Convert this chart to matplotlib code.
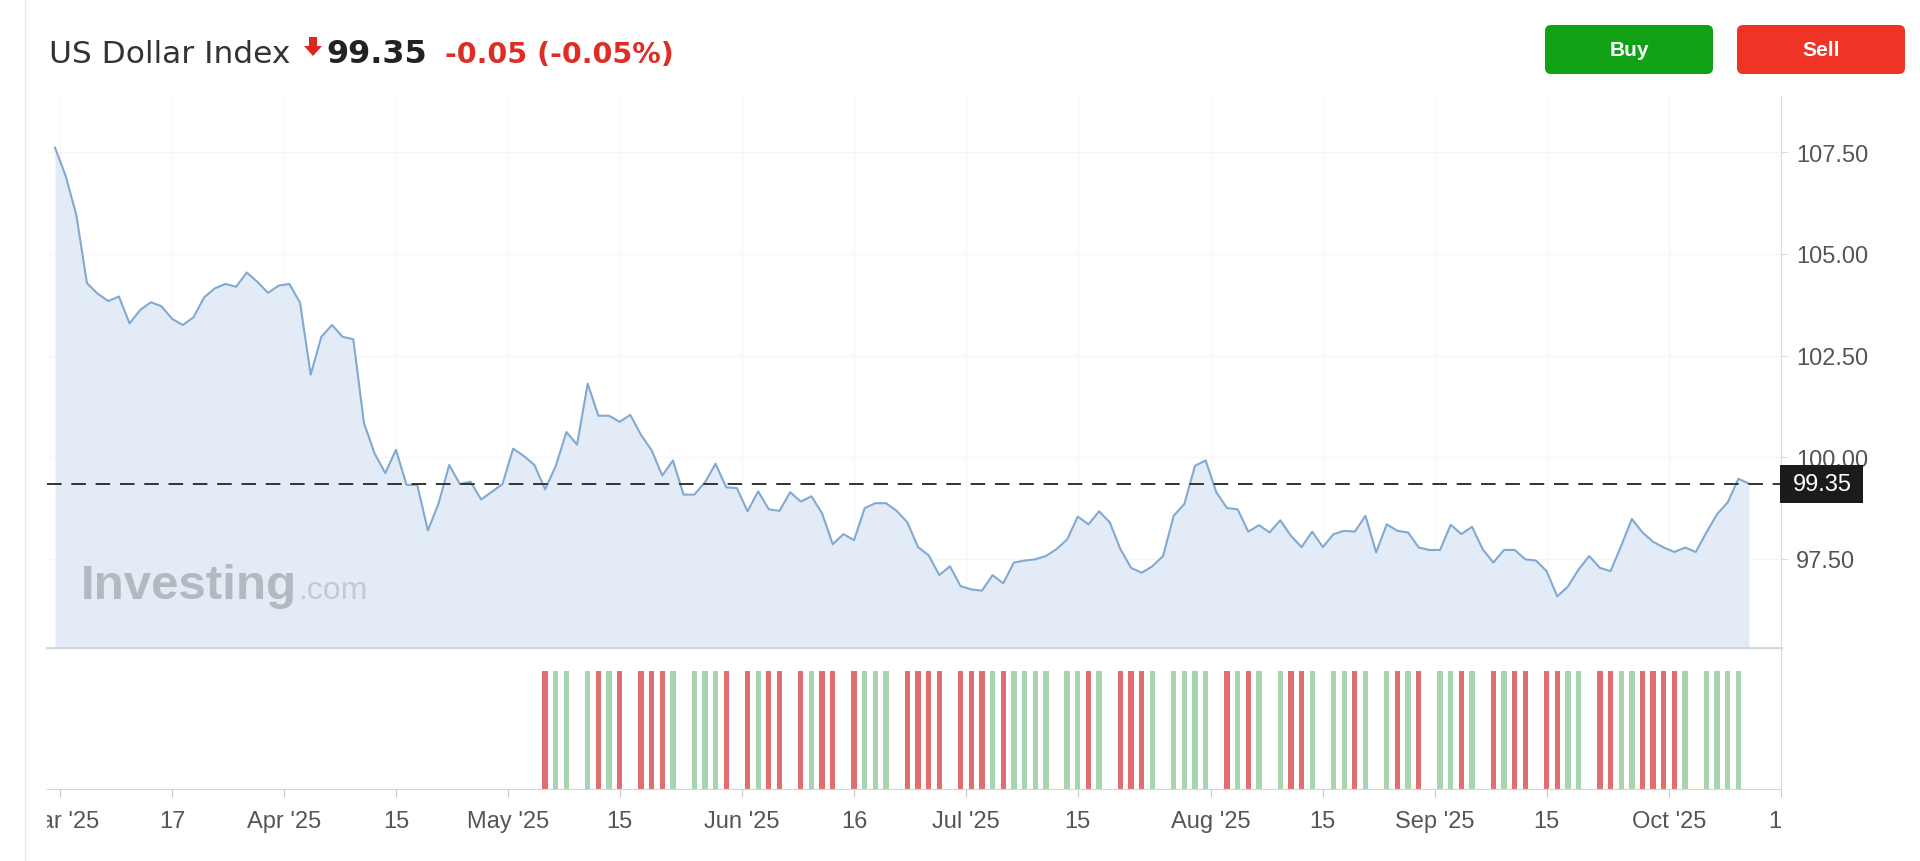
import numpy as np
import matplotlib
matplotlib.use('Agg')
import matplotlib.pyplot as plt
from matplotlib.patches import FancyBboxPatch, Rectangle, Polygon
from matplotlib.lines import Line2D
from matplotlib.transforms import Bbox, TransformedBbox, blended_transform_factory

plt.rcParams['font.family'] = ['Liberation Sans', 'DejaVu Sans']

# one close per trading day, starting 2025-02-28 (Good Friday is not in the feed)
start_day = '2025-02-28'
holidays = ['2025-04-18']
price = [
    107.61, 106.92, 105.96, 104.28, 104.02, 103.84, 103.95, 103.29, 103.62, 103.81,
    103.71, 103.40, 103.25, 103.44, 103.93, 104.15, 104.26, 104.19, 104.54, 104.31,
    104.04, 104.22, 104.26, 103.80, 102.03, 102.96, 103.25, 102.96, 102.90, 100.84,
    100.09, 99.61, 100.18, 99.32, 99.32, 98.20, 98.86, 99.81, 99.34, 99.40,
    98.96, 99.15, 99.34, 100.21, 100.03, 99.81, 99.21, 99.78, 100.62, 100.31,
    101.81, 101.02, 101.02, 100.87, 101.04, 100.55, 100.17, 99.55, 99.92, 99.08,
    99.08, 99.38, 99.84, 99.26, 99.24, 98.67, 99.16, 98.72, 98.68, 99.14,
    98.91, 99.04, 98.62, 97.86, 98.11, 97.96, 98.75, 98.87, 98.87, 98.68,
    98.40, 97.79, 97.59, 97.10, 97.32, 96.83, 96.75, 96.72, 97.10, 96.90,
    97.41, 97.46, 97.49, 97.57, 97.74, 97.98, 98.54, 98.35, 98.67, 98.40,
    97.74, 97.28, 97.16, 97.32, 97.57, 98.56, 98.85, 99.79, 99.92, 99.14,
    98.75, 98.72, 98.17, 98.33, 98.15, 98.45, 98.07, 97.79, 98.17, 97.79,
    98.11, 98.19, 98.17, 98.56, 97.66, 98.35, 98.19, 98.15, 97.78, 97.72,
    97.72, 98.34, 98.11, 98.29, 97.74, 97.41, 97.72, 97.72, 97.49, 97.46,
    97.20, 96.58, 96.82, 97.24, 97.57, 97.28, 97.20, 97.82, 98.48, 98.15,
    97.92, 97.78, 97.67, 97.78, 97.67, 98.15, 98.60, 98.89, 99.47, 99.35,
]
last_price = 99.35

# volume strip: colour per day from first_vol_day on, '-' = no bar
first_vol_day = 46
vol_colors = ('rgg-grgr-rrrg-gggr-rgrr-rgrr-rggg-rrrr-rrrgrgggg-'
              'ggrg-rrrg-gggg-rgrg-grrg-ggrg-grgr-ggrg-rgrr-rrgg-rrggrrrrg-gggg')
vol_height = 1.0  # every bar in the strip has the same height

tick_days = ['2025-03-03', '2025-03-17', '2025-04-01', '2025-04-15', '2025-05-01',
             '2025-05-15', '2025-06-02', '2025-06-16', '2025-07-01', '2025-07-15',
             '2025-08-01', '2025-08-15', '2025-09-01', '2025-09-15', '2025-10-01',
             '2025-10-15']
tick_labels = ["Mar '25", '17', "Apr '25", '15', "May '25", '15', "Jun '25", '16',
               "Jul '25", '15', "Aug '25", '15', "Sep '25", '15', "Oct '25", '15']
y_ticks = [97.5, 100.0, 102.5, 105.0, 107.5]

W, H = 1920, 862
def fx(px):
    return px / W
def fy(py):
    return 1 - py / H

fig = plt.figure(figsize=(W / 100, H / 100), dpi=100)
fig.patch.set_facecolor('white')

# plot area in pixels
L, R = 47, 1781
first_px, step_px = 55, 10.68
xlim = ((L - first_px) / step_px, (R - first_px) / step_px)
ymin, ymax = 95.31, 108.88

ax = fig.add_axes([fx(L), fy(649), (R - L) / W, (649 - 97) / H])
axv = fig.add_axes([fx(L), fy(790), (R - L) / W, (790 - 650) / H])

x = np.arange(len(price))
# month ticks sit on the boundary before the first day of the month
tick_pos = [np.busday_count(start_day, d, holidays=holidays) - (0.5 if "'" in lab else 0)
            for d, lab in zip(tick_days, tick_labels)]

# price panel
ax.fill_between(x, price, ymin, color='#e3ecf6', lw=0, zorder=1)
ax.plot(x, price, color='#82a9d1', lw=1.5, zorder=3)
ax.axhline(last_price, color='#333333', lw=1.4, ls=(0, (7.5, 5)), zorder=4)
ax.set_xlim(*xlim)
ax.set_ylim(ymin, ymax)
ax.set_xticks(tick_pos)
ax.set_yticks(y_ticks)
ax.yaxis.set_major_formatter(matplotlib.ticker.FormatStrFormatter('%.2f'))
ax.yaxis.tick_right()
ax.grid(True, color='#f6f6f6', lw=1)
ax.set_axisbelow(True)
ax.tick_params(axis='x', length=0, labelbottom=False)
ax.tick_params(axis='y', length=5, color='#dddddd', pad=6, labelsize=17,
               labelcolor='#555555')
for s in ['top', 'left']:
    ax.spines[s].set_visible(False)
ax.spines['right'].set_color('#dcdcdc')
ax.spines['bottom'].set_color('#ccd6e1')
ax.spines['bottom'].set_linewidth(2)

# last price tag
ppu = (649 - 97) / (ymax - ymin)
tag_tr = blended_transform_factory(fig.transFigure, ax.transData)
ax.add_patch(Rectangle((fx(R - 1), last_price - 19 / ppu), 83 / W, 38 / ppu,
                       transform=tag_tr, fc='#1b1b1b', ec='none', clip_on=False, zorder=6))
ax.text(fx(R + 41), last_price, f'{last_price:.2f}', transform=tag_tr, ha='center',
        va='center', color='white', size=17, zorder=7)

# volume strip
vol_x = [first_vol_day + i for i, c in enumerate(vol_colors) if c != '-']
vol_c = ['#e16e6e' if c == 'r' else '#a5d4af' for c in vol_colors if c != '-']
axv.bar(vol_x, [vol_height] * len(vol_x), width=0.5, color=vol_c, lw=0)
axv.set_xlim(*xlim)
axv.set_ylim(0, vol_height * 1.19)
axv.set_yticks([])
axv.set_xticks(tick_pos)
axv.tick_params(axis='x', length=6, color='#cccccc', labelbottom=False)
for s in ['top', 'left']:
    axv.spines[s].set_visible(False)
axv.spines['right'].set_color('#dcdcdc')
axv.spines['bottom'].set_color('#d6d6d6')

# x labels, clipped to the plot width like the original
clip = TransformedBbox(Bbox([[fx(L), 0], [fx(R), 1]]), fig.transFigure)
lab_tr = blended_transform_factory(axv.transData, fig.transFigure)
for p, lab in zip(tick_pos, tick_labels):
    t = fig.text(p, fy(828), lab, transform=lab_tr, ha='center', va='baseline',
                 size=17, color='#555555')
    t.set_clip_box(clip)
    t.set_clip_on(True)

# header
fig.text(fx(49), fy(63), 'US Dollar Index', size=22.5, color='#333333',
         family='DejaVu Sans', va='baseline')
# small red down-arrow icon
arrow_px = [(309, 38), (317, 38), (317, 47), (322, 47), (313, 57), (304, 47), (309, 47)]
fig.add_artist(Polygon([(fx(a), fy(b)) for a, b in arrow_px], closed=True,
                       transform=fig.transFigure, fc='#e0261b', ec='none'))
fig.text(fx(326), fy(63), f'{last_price:.2f}', size=23, weight='bold', color='#222222',
         family='DejaVu Sans', va='baseline')
fig.text(fx(445), fy(63), '-0.05 (-0.05%)', size=20.5, weight='bold', color='#dd2d25',
         family='DejaVu Sans', va='baseline')

# watermark
fig.text(fx(81), fy(599), 'Investing', size=35.5, weight='bold', color='#b4b9bf',
         va='baseline', zorder=5)
fig.text(fx(298), fy(599), '.com', size=23, color='#c6cacf', va='baseline', zorder=5)

# buttons
for bx, col, lab in [(1545, '#10a214', 'Buy'), (1737, '#ef3324', 'Sell')]:
    fig.add_artist(FancyBboxPatch((bx / 100, (H - 75) / 100), 1.68, 0.49,
                                  boxstyle='round,pad=0,rounding_size=0.06',
                                  fc=col, ec='none', transform=fig.dpi_scale_trans))
    fig.text((bx + 84) / 100, (H - 50.5) / 100, lab, transform=fig.dpi_scale_trans,
             ha='center', va='center', size=15, weight='bold', color='white')

# left border of the widget
fig.add_artist(Line2D([fx(25), fx(25)], [0, 1], color='#ebebeb', lw=1))

fig.savefig('out.png', dpi=100)
